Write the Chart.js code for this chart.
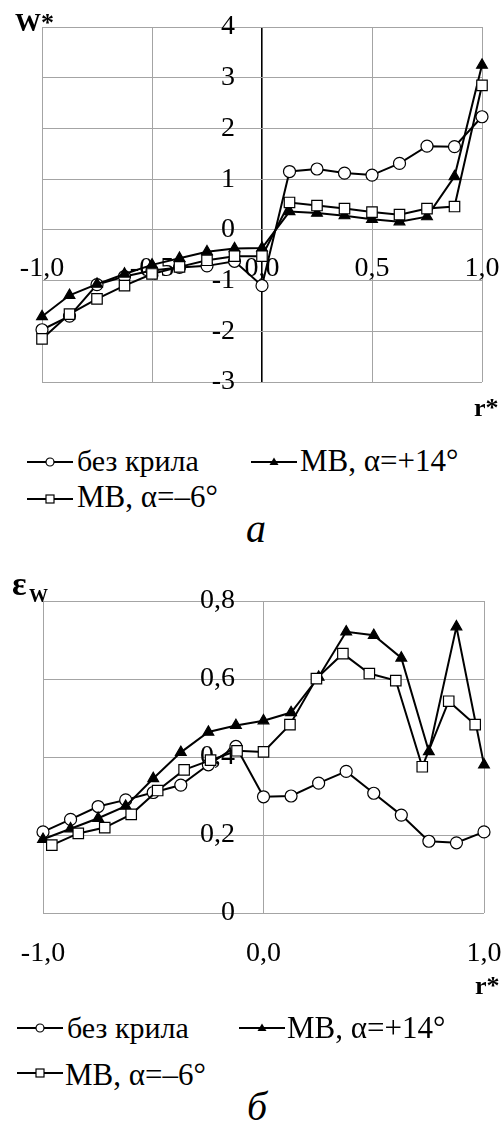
<!DOCTYPE html>
<html><head><meta charset="utf-8">
<script src="https://cdn.jsdelivr.net/npm/chart.js@4/dist/chart.umd.min.js"></script>
<style>
html,body{margin:0;padding:0;width:502px;height:1126px;overflow:hidden;background:#fff;position:relative;}
canvas{position:absolute;left:0;}
.t{position:absolute;font-family:"Liberation Serif","Times New Roman",serif;color:#000;white-space:nowrap;line-height:1;}
svg{position:absolute;}
</style></head><body>
<canvas id="c1" width="540" height="430" style="top:0px"></canvas>
<canvas id="c2" width="540" height="440" style="top:560px"></canvas>
<div id="overlay"></div>
<script>
// ---- data ----
const seriesNames = ['без крила', 'МВ, α=+14°', 'МВ, α=–6°'];

// chart a : W* vs r*
const rA = [-1.0,-0.875,-0.75,-0.625,-0.5,-0.375,-0.25,-0.125,0.0,0.125,0.25,0.375,0.5,0.625,0.75,0.875,1.0];
const wNoWing = [-1.97,-1.70,-1.08,-0.92,-0.80,-0.74,-0.71,-0.62,-1.10,1.15,1.20,1.12,1.08,1.31,1.65,1.64,2.23];
const wPlus14 = [-1.71,-1.29,-1.07,-0.87,-0.69,-0.56,-0.43,-0.37,-0.36,0.36,0.33,0.28,0.21,0.16,0.26,1.05,3.25];
const wMinus6 = [-2.15,-1.66,-1.36,-1.10,-0.87,-0.73,-0.60,-0.52,-0.52,0.54,0.48,0.42,0.35,0.30,0.42,0.46,2.85];
const xTickLabelsA = ['-1,0','-0,5','0,0','0,5','1,0'];
const yTickLabelsA = ['-3','-2','-1','0','1','2','3','4'];

// chart б : eps_W vs r*
const rB = [-1.0,-0.875,-0.75,-0.625,-0.5,-0.375,-0.25,-0.125,0.0,0.125,0.25,0.375,0.5,0.625,0.75,0.875,1.0];
const rBsq = [-0.96,-0.84,-0.72,-0.60,-0.48,-0.36,-0.24,-0.12,0.0,0.12,0.24,0.36,0.48,0.60,0.72,0.84,0.96];
const eNoWing = [0.208,0.240,0.273,0.290,0.309,0.328,0.380,0.427,0.298,0.300,0.333,0.363,0.307,0.251,0.184,0.180,0.208];
const ePlus14 = [0.189,0.216,0.243,0.274,0.345,0.412,0.464,0.481,0.493,0.514,0.605,0.721,0.712,0.654,0.414,0.734,0.380];
const eMinus6 = [0.174,0.204,0.219,0.253,0.314,0.367,0.392,0.416,0.413,0.483,0.601,0.665,0.614,0.596,0.375,0.543,0.483];
const xTickLabelsB = ['-1,0','0,0','1,0'];
const yTickLabelsB = ['0','0,2','0,4','0,6','0,8'];

// ---- helpers ----
const FONT = '"Liberation Serif", "Times New Roman", serif';
const TICK_SIZE = 28;
const GRID = '#a4a4a4';
const pts = (xs, ys) => xs.map((x, i) => ({x: x, y: ys[i]}));

const mctx = document.createElement('canvas').getContext('2d');
mctx.font = TICK_SIZE + 'px ' + FONT;
const widest = labels => Math.max(...labels.map(l => mctx.measureText(l).width));

function ds(label, data, style, order) {
  const base = {label, data, showLine: true, borderColor: '#000', borderWidth: 2, tension: 0,
    pointBorderColor: '#000', pointBorderWidth: 1.2, order, clip: false};
  if (style === 'circle') Object.assign(base, {pointStyle: 'circle', pointRadius: 6, pointBackgroundColor: '#fff'});
  if (style === 'triangle') Object.assign(base, {pointStyle: 'triangle', pointRadius: 6.2, pointBackgroundColor: '#000'});
  if (style === 'rect') Object.assign(base, {pointStyle: 'rect', pointRadius: 7.4, pointBackgroundColor: '#fff'});
  return base;
}

function makeChart(id, datasets, sc, padding) {
  // y labels are mirrored into the plot and right-aligned at sc.yLabelRight (canvas px)
  const yPad = sc.yLabelRight - padding.left - widest(sc.ylabels);
  return new Chart(document.getElementById(id), {
    type: 'scatter',
    data: {datasets},
    options: {
      responsive: false, animation: false, devicePixelRatio: 1,
      layout: {padding},
      plugins: {legend: {display: false}, tooltip: {enabled: false}},
      scales: {
        x: {type: 'linear', min: sc.xmin, max: sc.xmax, position: {y: sc.xAxisAt},
          afterFit: s => { s.paddingLeft = 0; s.paddingRight = 0; s.paddingTop = 0; s.paddingBottom = 0; },
          ticks: {stepSize: sc.xstep, padding: sc.xpad, autoSkip: false, maxRotation: 0, color: '#000',
            font: {family: FONT, size: TICK_SIZE}, callback: (v, i) => sc.xlabels[i]},
          grid: {drawTicks: false,
            color: c => (c.tick && c.tick.value === 0 && sc.zeroAxisDark) ? '#000' : GRID,
            lineWidth: c => (c.tick && c.tick.value === 0 && sc.zeroAxisDark) ? 1.6 : 1},
          border: {display: false}},
        y: {type: 'linear', min: sc.ymin, max: sc.ymax, position: 'left',
          afterFit: s => { s.width = 0; s.paddingTop = 0; s.paddingBottom = 0; s.paddingLeft = 0; s.paddingRight = 0; },
          ticks: {stepSize: sc.ystep, mirror: true, crossAlign: 'far', padding: yPad, autoSkip: false, color: '#000',
            font: {family: FONT, size: TICK_SIZE}, callback: (v, i) => sc.ylabels[i]},
          grid: {color: GRID, lineWidth: 1, drawTicks: false},
          border: {display: false}}
      }
    }
  });
}

makeChart('c1', [
  ds(seriesNames[0], pts(rA, wNoWing), 'circle', 2),
  ds(seriesNames[1], pts(rA, wPlus14), 'triangle', 1),
  ds(seriesNames[2], pts(rA, wMinus6), 'rect', 0)
], {xmin: -1, xmax: 1, xstep: 0.5, xAxisAt: 0, xpad: 22, xlabels: xTickLabelsA, zeroAxisDark: true,
    ymin: -3, ymax: 4, ystep: 1, ylabels: yTickLabelsA, yLabelRight: 235},
  {left: 42, top: 27, right: 58, bottom: 48});

makeChart('c2', [
  ds(seriesNames[0], pts(rB, eNoWing), 'circle', 2),
  ds(seriesNames[1], pts(rB, ePlus14), 'triangle', 1),
  ds(seriesNames[2], pts(rBsq, eMinus6), 'rect', 0)
], {xmin: -1, xmax: 1, xstep: 1, xAxisAt: 0, xpad: 24, xlabels: xTickLabelsB, zeroAxisDark: false,
    ymin: 0, ymax: 0.8, ystep: 0.2, ylabels: yTickLabelsB, yLabelRight: 235},
  {left: 43, top: 41, right: 56, bottom: 87});

// ---- text overlays (titles, legends, captions) ----
const ov = document.getElementById('overlay');
function text(str, left, baseline, size, style) {
  const d = document.createElement('div');
  d.className = 't';
  d.style.fontSize = size + 'px';
  d.style.left = left + 'px';
  d.style.top = (baseline - 0.8375 * size) + 'px';
  if (style) d.style.cssText += style;
  d.textContent = str;
  ov.appendChild(d);
  return d;
}
function symbol(kind, left, cy) {
  const ns = 'http://www.w3.org/2000/svg';
  const s = document.createElementNS(ns, 'svg');
  s.setAttribute('width', 46); s.setAttribute('height', 14);
  s.style.left = left + 'px'; s.style.top = (cy - 7) + 'px';
  let inner = '<line x1="0" y1="7" x2="46" y2="7" stroke="#000" stroke-width="2"/>';
  if (kind === 'circle') inner += '<circle cx="23" cy="7" r="4" fill="#fff" stroke="#000" stroke-width="1.2"/>';
  if (kind === 'triangle') inner += '<polygon points="23,2.5 27.5,10 18.5,10" fill="#000"/>';
  if (kind === 'rect') inner += '<rect x="19" y="3" width="8" height="8" fill="#fff" stroke="#000" stroke-width="1.2"/>';
  s.innerHTML = inner;
  ov.appendChild(s);
}

// chart a labels
text('W*', 15, 32, 26, 'font-weight:bold;');
text('r*', 474, 417, 26, 'font-weight:bold;');
symbol('circle', 27, 462); text(seriesNames[0], 77, 471, 30);
symbol('triangle', 251, 462); text(seriesNames[1], 300, 471, 31);
symbol('rect', 27, 499); text(seriesNames[2], 77, 507, 31);
text('а', 246, 542, 40, 'font-style:italic;');

// chart б labels
text('ε', 12, 595, 34, 'font-weight:bold;');
text('W', 29, 602, 19, 'font-weight:bold;');
text('r*', 475, 995, 26, 'font-weight:bold;');
symbol('circle', 17, 1028); text(seriesNames[0], 67, 1038, 30);
symbol('triangle', 239, 1028); text(seriesNames[1], 287, 1038, 31);
symbol('rect', 17, 1073); text(seriesNames[2], 65, 1085, 31);
text('б', 247, 1120, 40, 'font-style:italic;');
</script>
</body></html>
